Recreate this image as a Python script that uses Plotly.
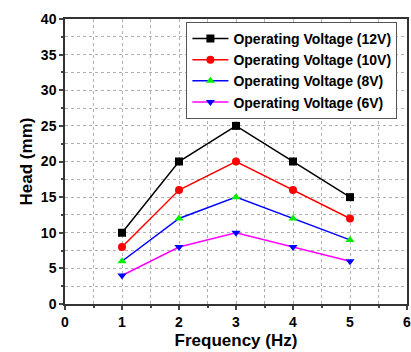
import plotly.graph_objects as go

freq = [1, 2, 3, 4, 5]
v12 = [10, 20, 25, 20, 15]
v10 = [8, 16, 20, 16, 12]
v8 = [6, 12, 15, 12, 9]
v6 = [4, 8, 10, 8, 6]
names = ["Operating Voltage (12V)", "Operating Voltage (10V)",
         "Operating Voltage (8V)", "Operating Voltage (6V)"]
series = [v12, v10, v8, v6]
line_colors = ["#000000", "#ff0000", "#0000ff", "#ff00ff"]
marker_colors = ["#000000", "#ff0000", "#00ee00", "#0000ff"]
symbols = ["square", "circle", "triangle-up", "triangle-down"]

fig = go.Figure()
for nm, ys, lc, mc, sym in zip(names, series, line_colors, marker_colors, symbols):
    fig.add_trace(go.Scatter(x=freq, y=ys, name=nm, mode="lines+markers",
                             line=dict(color=lc, width=1.5),
                             marker=dict(symbol=sym, color=mc, size=8)))

font = dict(family="Liberation Sans, Arial", color="#000000", weight="bold")
grid = dict(showgrid=True, gridcolor="#b0b0b0", griddash="dot", gridwidth=1)
fig.update_layout(
    width=411, height=352,
    margin=dict(l=65, r=0, t=19, b=48),
    paper_bgcolor="white", plot_bgcolor="white",
    showlegend=True,
    legend=dict(x=0.355, y=0.99, xanchor="left", yanchor="top",
                bgcolor="white", bordercolor="#555555", borderwidth=1,
                font=dict(size=14, **font), tracegroupgap=0,
                itemwidth=36),
    xaxis=dict(range=[0, 6], dtick=1, tick0=0, ticks="outside", ticklen=4,
               tickwidth=1.5, linecolor="#333333", linewidth=1.5, mirror=True,
               showline=True, zeroline=False, ticklabeloverflow="allow",
               minor=dict(dtick=0.5, ticks="outside", ticklen=2, showgrid=True,
                          gridcolor="#b0b0b0", griddash="dot"),
               tickfont=dict(size=14, **font),
               title=dict(text="Frequency (Hz)", font=dict(size=17, **font), standoff=6),
               **grid),
    yaxis=dict(range=[0, 40], dtick=5, tick0=0, ticks="outside", ticklen=4,
               tickwidth=1.5, linecolor="#333333", linewidth=1.5, mirror=True,
               showline=True, zeroline=False,
               minor=dict(dtick=2.5, ticks="outside", ticklen=2, showgrid=True,
                          gridcolor="#b0b0b0", griddash="dot"),
               tickfont=dict(size=14, **font),
               title=dict(text="Head (mm)", font=dict(size=17, **font), standoff=4),
               **grid),
)
fig.write_html("out.html")
